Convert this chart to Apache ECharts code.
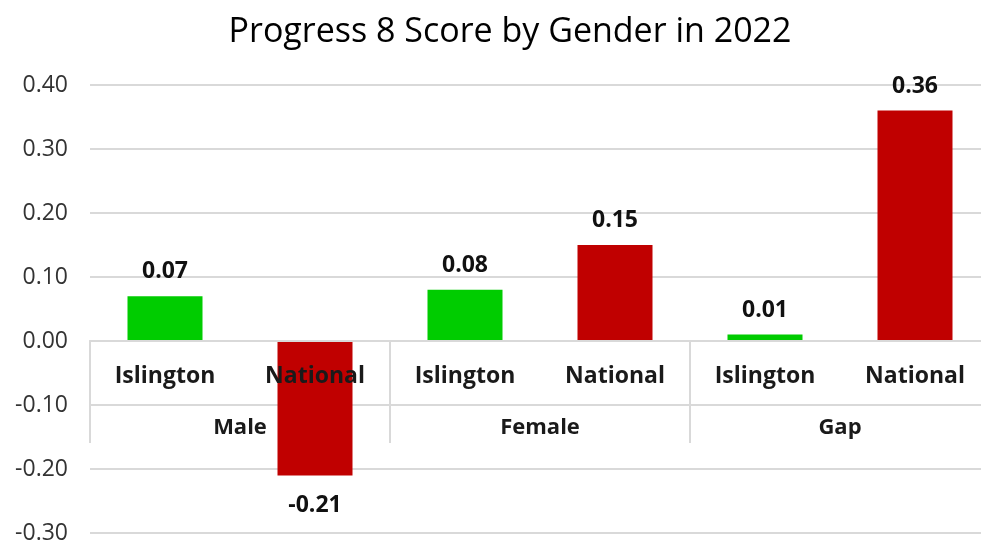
<!DOCTYPE html>
<html><head><meta charset="utf-8">
<script src="https://cdn.jsdelivr.net/npm/echarts@6/dist/echarts.min.js"></script>
<style>html,body{margin:0;padding:0;background:#fff}#c{width:981px;height:543px}</style>
</head><body><div id="c"></div>
<script>
const titleText = 'Progress 8 Score by Gender in 2022';
const subCategories = ['Islington','National','Islington','National','Islington','National'];
const groups = ['Male','Female','Gap'];
const values = [0.07, -0.21, 0.08, 0.15, 0.01, 0.36];
const barColors = ['#00CC00','#C00000','#00CC00','#C00000','#00CC00','#C00000'];
const yMin = -0.3, yMax = 0.4, yStep = 0.1;

const FONT = 'Open Sans';
const GRID_TOP = 85, GRID_BOTTOM = 10, H = 543;
// distance from bottom of grid to the zero line (layout, derived from the axis range)
const zeroOffset = -((H - GRID_TOP - GRID_BOTTOM) * (0 - yMin) / (yMax - yMin));
const chart = echarts.init(document.getElementById('c'), null, {renderer:'canvas'});
const dataItems = values.map((v,i)=>({
  value: v,
  itemStyle: {color: barColors[i]},
  label: v >= 0 ? {position: 'top', distance: 13} : {position: 'bottom', distance: 19}
}));
chart.setOption({
  animation: false,
  title: {text: titleText, left: 505, top: 10, textAlign: 'center',
    textStyle: {fontFamily: FONT, fontSize: 34, fontWeight: 'normal', color: '#000'}},
  grid: {left: 90, right: -9, top: GRID_TOP, bottom: GRID_BOTTOM, containLabel: false, outerBoundsMode: 'none'},
  xAxis: [{
    type: 'category', data: subCategories, z: 10, position: 'bottom', offset: zeroOffset,
    axisLine: {onZero: false, lineStyle: {color: '#d9d9d9', width: 2}},
    axisTick: {show: false},
    axisLabel: {margin: 24, fontFamily: FONT, fontSize: 23, fontWeight: 'bold', color: '#1a1a1a', interval: 0}
  },{
    type: 'category', data: groups, position: 'bottom', z: 10, offset: zeroOffset,
    axisLine: {onZero: false, lineStyle: {color: '#d9d9d9', width: 2}},
    axisTick: {show: true, length: 102, lineStyle: {color: '#d9d9d9', width: 2}},
    axisLabel: {margin: 76, fontFamily: FONT, fontSize: 22, fontWeight: 'bold', color: '#1a1a1a', interval: 0}
  }],
  yAxis: {
    type: 'value', min: yMin, max: yMax, interval: yStep,
    axisLine: {show: false}, axisTick: {show: false},
    axisLabel: {margin: 22, fontFamily: FONT, fontSize: 23, color: '#333',
      formatter: v => v.toFixed(2)},
    splitLine: {lineStyle: {color: '#d9d9d9', width: 2}}
  },
  series: [{
    type: 'bar', xAxisIndex: 0, data: dataItems, barCategoryGap: '50%',
    label: {show: true, fontFamily: FONT, fontSize: 23, fontWeight: 'bold', color: '#111',
      formatter: p => p.value.toFixed(2)}
  }]
});
</script></body></html>
